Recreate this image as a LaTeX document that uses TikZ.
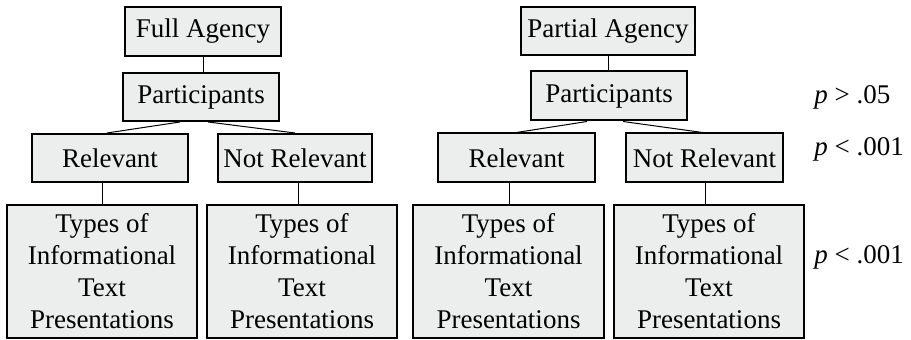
\documentclass[tikz,border=0pt]{standalone}
\usepackage{fontspec}
\setmainfont{Liberation Serif}
\definecolor{boxgray}{RGB}{236,237,237}

\begin{document}
\begin{tikzpicture}[x=0.5pt, y=-0.5pt,
  box/.style={draw, line width=1pt, fill=boxgray, inner sep=0pt, align=center, font=\fontsize{13.5}{16}\selectfont},
  sig/.style={anchor=west, inner sep=0pt, font=\fontsize{13.5}{16}\selectfont},
  link/.style={line width=0.5pt}]
\useasboundingbox (0,0) rectangle (911,340);
% left tree
\node[box, minimum width=78pt, minimum height=24.5pt](a1) at (203,31.5){Full Agency};
\node[box, minimum width=78pt, minimum height=24pt](p1) at (201,97){Participants};
\node[box, minimum width=78pt, minimum height=24pt](r1) at (110,158){Relevant};
\node[box, minimum width=77pt, minimum height=24pt](r2) at (295,158){Not Relevant};
\node[box, minimum width=95pt, minimum height=66.5pt](t1) at (102,271.5){Types of\\Informational\\Text\\Presentations};
\node[box, minimum width=95pt, minimum height=66.5pt](t2) at (302,271.5){Types of\\Informational\\Text\\Presentations};
% right tree
\node[box, minimum width=87pt, minimum height=24pt](a2) at (608,31.5){Partial Agency};
\node[box, minimum width=78pt, minimum height=24.5pt](p2) at (609,96){Participants};
\node[box, minimum width=78.5pt, minimum height=24.5pt](r3) at (516.5,158){Relevant};
\node[box, minimum width=78.5pt, minimum height=24.5pt](r4) at (704.5,158){Not Relevant};
\node[box, minimum width=95.5pt, minimum height=66.5pt](t3) at (508.5,271.5){Types of\\Informational\\Text\\Presentations};
\node[box, minimum width=95pt, minimum height=66.5pt](t4) at (709,271.5){Types of\\Informational\\Text\\Presentations};
% significance
\node[sig](s1) at (814,97){\textit{p} > .05};
\node[sig](s2) at (814,149){\textit{p} < .001};
\node[sig](s3) at (814,257){\textit{p} < .001};

\draw[link] (a1.south) -- (a1.south |- p1.north);
\draw[link] ([xshift=-10.5pt]p1.south) -- ([xshift=-1.5pt]r1.north);
\draw[link] ([xshift=3.5pt]p1.south) -- (r2.north);
\draw[link] (t1.north |- r1.south) -- (t1.north);
\draw[link] ([xshift=-2pt]t2.north |- r2.south) -- ([xshift=-2pt]t2.north);
\draw[link] (a2.south) -- (a2.south |- p2.north);
\draw[link] ([xshift=-11pt]p2.south) -- (r3.north);
\draw[link] ([xshift=7pt]p2.south) -- ([xshift=-1pt]r4.north);
\draw[link] ([xshift=0.5pt]t3.north |- r3.south) -- ([xshift=0.5pt]t3.north);
\draw[link] ([xshift=-2pt]t4.north |- r4.south) -- ([xshift=-2pt]t4.north);
\end{tikzpicture}
\end{document}
